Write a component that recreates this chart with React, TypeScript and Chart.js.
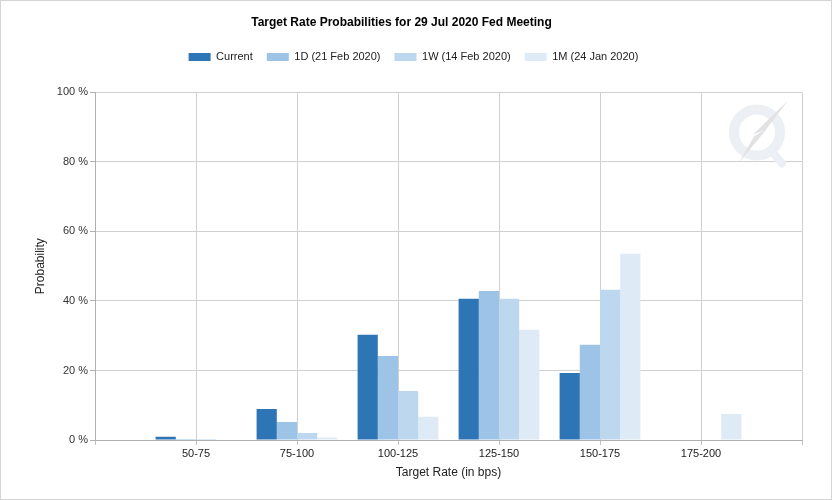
import React, { useEffect, useRef } from "react";
import { Chart, registerables } from "chart.js";

Chart.register(...registerables);

const categories = ["50-75", "75-100", "100-125", "125-150", "150-175", "175-200"];
const currentVals = [0.9, 8.9, 30.3, 40.6, 19.3, 0];
const oneDayVals = [0.3, 5.2, 24.2, 42.9, 27.4, 0];
const oneWeekVals = [0.3, 2.0, 14.1, 40.6, 43.2, 0];
const oneMonthVals = [0, 0.7, 6.7, 31.7, 53.6, 7.5];
const seriesNames = ["Current", "1D (21 Feb 2020)", "1W (14 Feb 2020)", "1M (24 Jan 2020)"];
const seriesColors = ["#2E75B6", "#9DC3E6", "#BDD7EE", "#DEEBF7"];
const yTicks = [0, 20, 40, 60, 80, 100];

const FONT = "'Liberation Sans', Arial, sans-serif";

const pad = (arr: number[]) => [null, ...arr, null];

const watermark = {
  id: "watermark",
  afterLayout(chart: any) {
    if (chart.legend) {
      chart.legend.left += 12;
      chart.legend.right += 12;
    }
  },
  beforeDatasetsDraw(chart: any) {
    const { ctx, chartArea } = chart;
    const cx = chartArea.right - 45;
    const cy = chartArea.top + 40;
    ctx.save();
    ctx.strokeStyle = "rgba(236,239,244,1)";
    ctx.lineWidth = 10;
    ctx.beginPath();
    ctx.arc(cx, cy, 23, 0, Math.PI * 2);
    ctx.stroke();
    ctx.lineWidth = 8;
    ctx.lineCap = "round";
    ctx.beginPath();
    ctx.moveTo(cx + 14, cy + 18);
    ctx.lineTo(cx + 25, cy + 31);
    ctx.stroke();
    ctx.fillStyle = "rgba(226,226,228,1)";
    ctx.beginPath();
    ctx.moveTo(cx + 31, cy - 32);
    ctx.lineTo(cx - 4, cy + 2);
    ctx.lineTo(cx + 9, cy - 3);
    ctx.closePath();
    ctx.fill();
    ctx.beginPath();
    ctx.moveTo(cx - 18, cy + 30);
    ctx.lineTo(cx + 11, cy - 5);
    ctx.lineTo(cx - 3, cy + 4);
    ctx.closePath();
    ctx.fill();
    ctx.restore();
  },
};

export default function App() {
  const ref = useRef<HTMLCanvasElement | null>(null);
  useEffect(() => {
    document.body.style.margin = "0";
    const labels = ["", ...categories, ""];
    const data = [currentVals, oneDayVals, oneWeekVals, oneMonthVals];
    const chart = new Chart(ref.current as HTMLCanvasElement, {
      type: "bar",
      data: {
        labels,
        datasets: data.map((d, i) => ({
          label: seriesNames[i],
          data: pad(d) as any,
          backgroundColor: seriesColors[i],
          borderWidth: 0,
          barPercentage: 1,
          categoryPercentage: 0.8,
        })),
      },
      options: {
        animation: false,
        responsive: false,
        maintainAspectRatio: false,
        layout: { padding: { left: 0, right: 29, top: 0, bottom: 0 } },
        plugins: {
          title: {
            display: true,
            text: "Target Rate Probabilities for 29 Jul 2020 Fed Meeting",
            color: "#000",
            font: { family: FONT, size: 12, weight: "bold" },
            padding: { top: 14, bottom: 8 },
          },
          subtitle: {
            display: true,
            text: "",
            weight: 500,
            font: { family: FONT, size: 10 },
            padding: { top: 4, bottom: 4 },
          } as any,
          legend: {
            display: true,
            labels: {
              boxWidth: 22,
              boxHeight: 8,
              padding: 14,
              color: "#222",
              font: { family: FONT, size: 11 },
            },
          },
          tooltip: { enabled: false },
        },
        scales: {
          x: {
            offset: false,
            grid: { offset: false, color: "#d0d0d0", drawTicks: true, tickLength: 5, tickColor: "#c0c0c0" },
            border: { color: "#b0b0b0" },
            ticks: { color: "#222", font: { family: FONT, size: 11 }, padding: 2, maxRotation: 0, autoSkip: false },
            title: {
              display: true,
              text: "Target Rate (in bps)",
              color: "#222",
              font: { family: FONT, size: 12 },
              padding: { top: 0, bottom: 19 },
            },
            afterFit(scale: any) {
              scale.height = 59;
            },
          },
          y: {
            min: 0,
            max: 100,
            afterBuildTicks(scale: any) {
              scale.ticks = yTicks.map((v) => ({ value: v }));
            },
            grid: { color: "#d0d0d0", drawTicks: true, tickLength: 5, tickColor: "#b0b0b0" },
            border: { color: "#b0b0b0" },
            ticks: {
              color: "#333",
              font: { family: FONT, size: 11 },
              padding: 2,
              callback: (v: any) => v + " %",
            },
            title: {
              display: true,
              text: "Probability",
              color: "#222",
              font: { family: FONT, size: 12 },
              padding: { top: 32, bottom: 0 },
            },
            afterFit(scale: any) {
              scale.width = 94;
            },
          },
        },
      },
      plugins: [watermark],
    });
    return () => chart.destroy();
  }, []);
  return (
    <div
      style={{
        position: "absolute",
        left: 0,
        top: 0,
        width: 832,
        height: 500,
        boxSizing: "border-box",
        border: "1px solid #d4d4d4",
        background: "#fff",
      }}
    >
      <canvas ref={ref} width={830} height={498} style={{ display: "block" }} />
    </div>
  );
}
